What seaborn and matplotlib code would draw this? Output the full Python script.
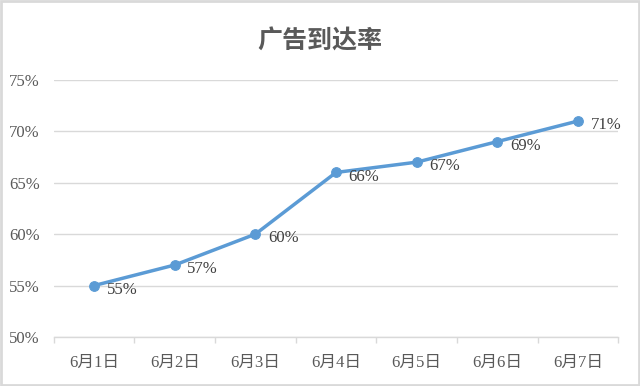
import matplotlib
matplotlib.use("Agg")
import matplotlib.pyplot as plt
import matplotlib.patches as mpatches
from matplotlib.ticker import FuncFormatter, MultipleLocator
import seaborn as sns
import pandas as pd

title = "广告到达率"
dates = ["6月1日", "6月2日", "6月3日", "6月4日", "6月5日", "6月6日", "6月7日"]
rates = [55, 57, 60, 66, 67, 69, 71]

sns.set_style("white")
plt.rcParams['font.family'] = ['Liberation Serif', 'Noto Sans CJK SC', 'DejaVu Sans']

df = pd.DataFrame({"date": dates, "rate": rates})

fig = plt.figure(figsize=(6.4, 3.86), dpi=100)
ax = fig.add_axes([0.084, 0.127, 0.882, 0.666])

line_color = "#5B9BD5"
sns.lineplot(data=df, x="date", y="rate", ax=ax, color=line_color, linewidth=2.5,
             marker="o", markersize=7, markeredgecolor=line_color, sort=False)

ax.set_xlim(-0.5, len(dates) - 0.5)
ax.set_ylim(50, 75)
ax.yaxis.set_major_locator(MultipleLocator(5))
ax.yaxis.set_major_formatter(FuncFormatter(lambda v, p: f"{v:.0f}%"))
ax.grid(axis="y", color="#D9D9D9", linewidth=1)
ax.set_axisbelow(True)
for s in ["top", "right", "left"]:
    ax.spines[s].set_visible(False)
ax.spines["bottom"].set_color("#D9D9D9")
ax.spines["bottom"].set_linewidth(1)

ax.set_xticks(range(len(dates)))
ax.set_xticklabels(dates)
ax.set_xticks([i - 0.5 for i in range(len(dates) + 1)], minor=True)
ax.tick_params(axis="x", which="major", length=0, pad=13, labelsize=12, labelcolor="#595959")
ax.tick_params(axis="x", which="minor", length=4, color="#D9D9D9", width=1, direction="out", bottom=True)
ax.tick_params(axis="y", length=0, pad=10, labelsize=12, labelcolor="#595959")
ax.set_xlabel("")
ax.set_ylabel("")

for i, v in enumerate(rates):
    ax.annotate(f"{v}%", (i, v), xytext=(9, -3), textcoords="offset points",
                ha="left", va="center", fontsize=12, color="#404040")

fig.text(0.5, 0.893, title, ha="center", va="center", fontsize=18, fontweight="bold",
         color="#595959", family=["Noto Sans CJK SC", "DejaVu Sans"])

fig.patches.append(mpatches.Rectangle((0.002, 0.003), 0.996, 0.994, transform=fig.transFigure,
                                      fill=False, edgecolor="#D9D9D9", linewidth=2))

fig.savefig("out.png", dpi=100)
